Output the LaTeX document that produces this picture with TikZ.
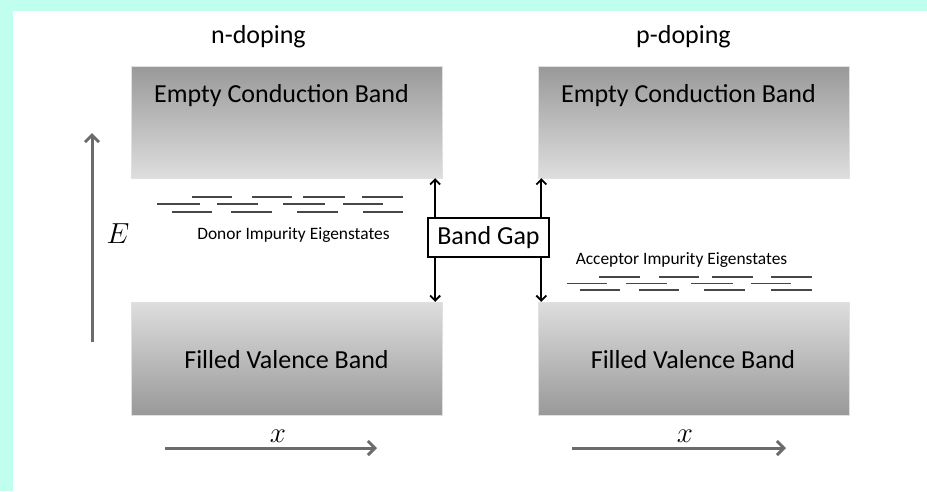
\documentclass[tikz,border=0pt]{standalone}
\usepackage{fix-cm}
\usepackage{fontspec}
\setmainfont{Carlito}
\usepackage{tikz}
\usetikzlibrary{arrows.meta,positioning,calc}
\definecolor{framecyan}{RGB}{192,255,238}

\begin{document}
\begin{tikzpicture}[
    x=1pt, y=-1pt,
    cband/.style={rectangle, draw=black!12, top color=black!40, bottom color=black!13, minimum width=311pt, minimum height=112pt, inner sep=0pt},
    vband/.style={rectangle, draw=black!12, top color=black!13, bottom color=black!40, minimum width=311pt, minimum height=113pt, inner sep=0pt},
    bandtxt/.style={font=\fontsize{26}{30}\selectfont, anchor=base, inner sep=0pt},
    smalltxt/.style={font=\fontsize{17.4}{20}\selectfont, anchor=base, inner sep=0pt},
    mathtxt/.style={font=\fontsize{29}{34}\selectfont, anchor=base, inner sep=0pt},
    gapbox/.style={rectangle, draw, line width=1.4pt, fill=white, minimum width=121pt, minimum height=39pt, font=\fontsize{26}{30}\selectfont},
    level/.style={draw=black!72, line width=1.3pt},
    gaparrow/.style={{Straight Barb[length=5pt,width=10pt]}-{Straight Barb[length=5pt,width=10pt]}, line width=1.8pt},
    axis/.style={-{Straight Barb[length=7pt,width=14pt]}, draw=black!58, line width=3pt}
]
\useasboundingbox (0,0) rectangle (927,491);

% Frame
\fill[framecyan] (0,0) rectangle (927,491);
\fill[white] (13,11) rectangle (927,491);

% Bands
\node[cband] (cbl) at (286.5,122) {};
\node[vband] (vbl) at (286.5,358.5) {};
\node[cband] (cbr) at (694,122) {};
\node[vband] (vbr) at (694,358.5) {};

% Band labels
\node[bandtxt] (ctl) at (281.5,102) {Empty Conduction Band};
\node[bandtxt] (vtl) at (286.5,368) {Filled Valence Band};
\node[bandtxt] (ctr) at (688.5,102) {Empty Conduction Band};
\node[bandtxt] (vtr) at (693,368) {Filled Valence Band};

% Titles
\node[bandtxt] (ndop) at (258.5,43) {n-doping};
\node[bandtxt] (pdop) at (683.5,43) {p-doping};

% Donor levels
\draw[level] (192,197) -- (232,197) (252,197) -- (292,197) (303,197) -- (345,197) (362,197) -- (403,197);
\draw[level] (157,204) -- (200,204) (217,204) -- (258,204) (283,204) -- (325,204) (343,204) -- (383,204);
\draw[level] (172,212) -- (212,212) (231,212) -- (272,212) (297,212) -- (338,212) (363,212) -- (403,212);
\node[smalltxt] (donor) at (293.5,239) {Donor Impurity Eigenstates};

% Acceptor levels
\node[smalltxt] (acceptor) at (681.5,264) {Acceptor Impurity Eigenstates};
\draw[level] (599,277) -- (640,277) (659,277) -- (699,277) (712,277) -- (753,277) (771,277) -- (812,277);
\draw[level, line width=1pt] (567,283) -- (607,283) (626,283) -- (667,283) (691,283) -- (733,283) (751,283) -- (791,283);
\draw[level] (580,290) -- (620,290) (639,290) -- (679,290) (704,290) -- (745,290) (771,290) -- (812,290);

% Band gap
\draw[gaparrow] ($(cbl.south east)+(-7,0)$) -- ($(vbl.north east)+(-7,0)$);
\draw[gaparrow] ($(cbr.south west)+(3,0)$) -- ($(vbr.north west)+(3,0)$);
\node[gapbox] (gap) at (488.5,237.5) {Band Gap};

% Axes
\coordinate (e0) at (92,342);
\coordinate (e1) at (92,133);
\draw[axis] (e0) -- (e1);
\node[mathtxt] (elab) at (118,243) {$E$};

\coordinate (xl0) at (165,448);
\coordinate (xl1) at (377,448);
\draw[axis] (xl0) -- (xl1);
\node[mathtxt] (xlabl) at (278,442) {$x$};

\coordinate (xr0) at (572,448);
\coordinate (xr1) at (786,448);
\draw[axis] (xr0) -- (xr1);
\node[mathtxt] (xlabr) at (685,442) {$x$};

\end{tikzpicture}
\end{document}
